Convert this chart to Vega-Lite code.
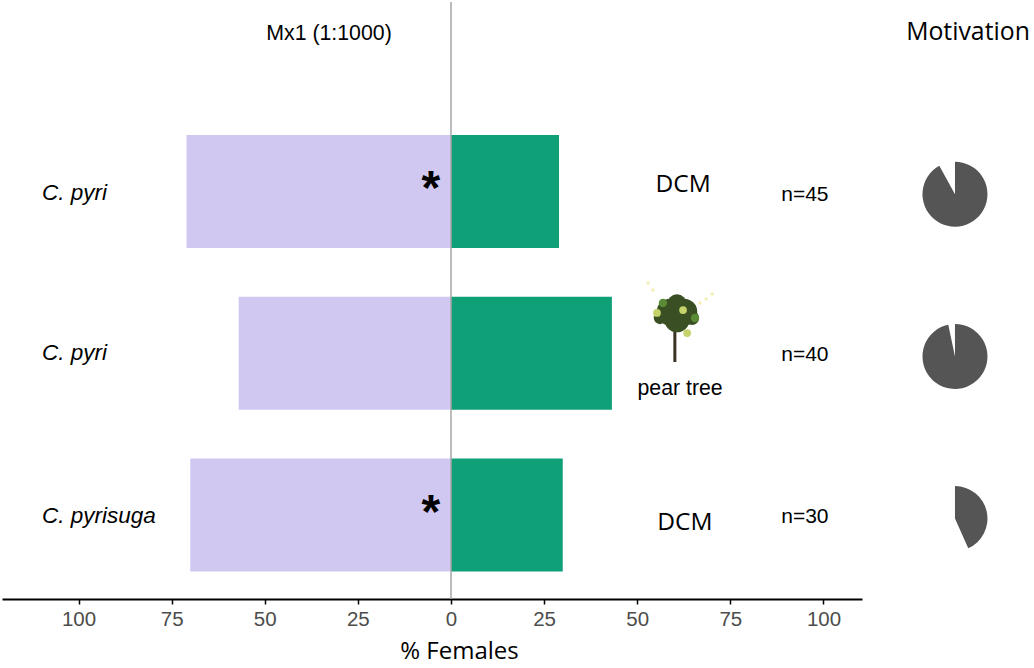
{
  "$schema": "https://vega.github.io/schema/vega-lite/v6.json",
  "width": 860,
  "height": 597,
  "autosize": "none",
  "padding": {"left": 2, "top": 2, "right": 172, "bottom": 69},
  "background": "white",
  "view": {"stroke": null},
  "datasets": {
    "bars": [
      {"species": "C. pyri", "side": "left", "x": -71, "zero": 0, "y": 1},
      {"species": "C. pyri", "side": "right", "x": 29, "zero": 0, "y": 1},
      {"species": "C. pyri 2", "side": "left", "x": -57, "zero": 0, "y": 2},
      {"species": "C. pyri 2", "side": "right", "x": 43.2, "zero": 0, "y": 2},
      {"species": "C. pyrisuga", "side": "left", "x": -70, "zero": 0, "y": 3},
      {"species": "C. pyrisuga", "side": "right", "x": 30, "zero": 0, "y": 3}
    ],
    "centre": [{"x": 0, "y": -0.171, "y2": 3.519}],
    "species": [
      {"x": -109.8, "y": 1.012, "label": "C. pyri"},
      {"x": -109.8, "y": 2.0, "label": "C. pyri"},
      {"x": -109.8, "y": 3.006, "label": "C. pyrisuga"}
    ],
    "stars": [
      {"x": -5.4, "y": 0.992, "label": "*"},
      {"x": -5.4, "y": 2.992, "label": "*"}
    ],
    "hosts": [
      {"x": 62.3, "y": 0.959, "label": "DCM"},
      {"x": 62.8, "y": 3.049, "label": "DCM"}
    ],
    "counts": [
      {"x": 95, "y": 1.021, "label": "n=45"},
      {"x": 95, "y": 2.011, "label": "n=40"},
      {"x": 95, "y": 3.012, "label": "n=30"}
    ],
    "small": [
      {"x": -32.75, "y": 0.026, "label": "Mx1 (1:1000)"},
      {"x": 61.5, "y": 2.221, "label": "pear tree"}
    ],
    "head": [{"x": 138.8, "y": 0.02, "label": "Motivation"}],
    "motivation": [
      {"x": 135.3, "y": 1.017, "start": 0, "pct": 92},
      {"x": 135.3, "y": 2.02, "start": 0, "pct": 96.7},
      {"x": 135.3, "y": 3.022, "start": 0, "pct": 43.3}
    ],
    "trunk": [{"x": 60.1, "y": 1.856, "y2": 2.054}],
    "crown": [
      {"x": 58.8, "y": 1.745, "area": 707},
      {"x": 62.55, "y": 1.745, "area": 707},
      {"x": 60.67, "y": 1.696, "area": 380},
      {"x": 60.67, "y": 1.794, "area": 616},
      {"x": 64.7, "y": 1.782, "area": 201},
      {"x": 56.1, "y": 1.782, "area": 154}
    ],
    "leaves": [
      {"x": 56.9, "y": 1.689},
      {"x": 65.5, "y": 1.782}
    ],
    "pears": [
      {"x": 55.3, "y": 1.751},
      {"x": 62.3, "y": 1.733},
      {"x": 63.4, "y": 1.875}
    ],
    "sparkles": [
      {"x": 52.9, "y": 1.566},
      {"x": 54.2, "y": 1.609},
      {"x": 70.1, "y": 1.634},
      {"x": 68.5, "y": 1.665},
      {"x": 66.8, "y": 1.689}
    ]
  },
  "encoding": {
    "x": {
      "field": "x",
      "type": "quantitative",
      "scale": {"domain": [-120.54, 110.34], "nice": false, "zero": false},
      "axis": {
        "values": [-100, -75, -50, -25, 0, 25, 50, 75, 100],
        "labelExpr": "abs(datum.value)",
        "title": "% Females",
        "grid": false,
        "domainColor": "black",
        "domainWidth": 2,
        "tickColor": "black",
        "tickWidth": 1.5,
        "tickSize": 5,
        "labelFont": "Liberation Sans",
        "labelFontSize": 20.5,
        "labelColor": "#4d4d4d",
        "labelPadding": 5,
        "titleFont": "Open Sans",
        "titleFontSize": 24,
        "titleFontWeight": "normal",
        "titleColor": "black",
        "titleX": 457,
        "titleY": 52,
        "titleBaseline": "middle"
      }
    },
    "y": {
      "field": "y",
      "type": "quantitative",
      "scale": {"domain": [3.519, -0.171], "nice": false, "zero": false, "padding": 0},
      "axis": null
    }
  },
  "layer": [
    {
      "data": {"name": "bars"},
      "mark": {"type": "bar", "orient": "horizontal", "size": 113},
      "encoding": {
        "x2": {"field": "zero"},
        "color": {
          "field": "side",
          "type": "nominal",
          "scale": {"domain": ["left", "right"], "range": ["#d0c8f0", "#10a078"]},
          "legend": null
        }
      }
    },
    {
      "data": {"name": "centre"},
      "mark": {"type": "rule", "color": "#a6a6a6", "strokeWidth": 1.5},
      "encoding": {"y2": {"field": "y2"}}
    },
    {
      "data": {"name": "species"},
      "mark": {"type": "text", "align": "left", "baseline": "middle", "font": "Liberation Sans", "fontStyle": "italic", "fontSize": 22.5, "color": "black"},
      "encoding": {"text": {"field": "label"}}
    },
    {
      "data": {"name": "stars"},
      "mark": {"type": "text", "align": "center", "baseline": "middle", "font": "Liberation Sans", "fontWeight": "bold", "fontSize": 48, "color": "black"},
      "encoding": {"text": {"field": "label"}}
    },
    {
      "data": {"name": "hosts"},
      "mark": {"type": "text", "align": "center", "baseline": "middle", "font": "Open Sans", "fontSize": 24.5, "color": "black"},
      "encoding": {"text": {"field": "label"}}
    },
    {
      "data": {"name": "counts"},
      "mark": {"type": "text", "align": "center", "baseline": "middle", "font": "Liberation Sans", "fontSize": 21, "color": "black"},
      "encoding": {"text": {"field": "label"}}
    },
    {
      "data": {"name": "small"},
      "mark": {"type": "text", "align": "center", "baseline": "middle", "font": "Liberation Sans", "fontSize": 21.3, "color": "black"},
      "encoding": {"text": {"field": "label"}}
    },
    {
      "data": {"name": "head"},
      "mark": {"type": "text", "align": "center", "baseline": "middle", "font": "Open Sans", "fontSize": 24.8, "color": "black"},
      "encoding": {"text": {"field": "label"}}
    },
    {
      "data": {"name": "motivation"},
      "mark": {"type": "arc", "radius": 32.5, "color": "#555555"},
      "encoding": {
        "theta": {"field": "start", "type": "quantitative", "stack": false, "scale": {"domain": [0, 100], "range": [0, 6.2832]}},
        "theta2": {"field": "pct"}
      }
    },
    {
      "data": {"name": "sparkles"},
      "mark": {"type": "point", "filled": true, "opacity": 1, "size": 12, "color": "#f3efb5"}
    },
    {
      "data": {"name": "trunk"},
      "mark": {"type": "rule", "color": "#3b3226", "strokeWidth": 3},
      "encoding": {"y2": {"field": "y2"}}
    },
    {
      "data": {"name": "crown"},
      "mark": {"type": "point", "filled": true, "opacity": 1, "color": "#3a4f23"},
      "encoding": {"size": {"field": "area", "type": "quantitative", "scale": null, "legend": null}}
    },
    {
      "data": {"name": "leaves"},
      "mark": {"type": "point", "filled": true, "opacity": 1, "size": 70, "color": "#5b8a35"}
    },
    {
      "data": {"name": "pears"},
      "mark": {"type": "point", "filled": true, "opacity": 1, "size": 60, "color": "#c6d26a"}
    }
  ]
}
